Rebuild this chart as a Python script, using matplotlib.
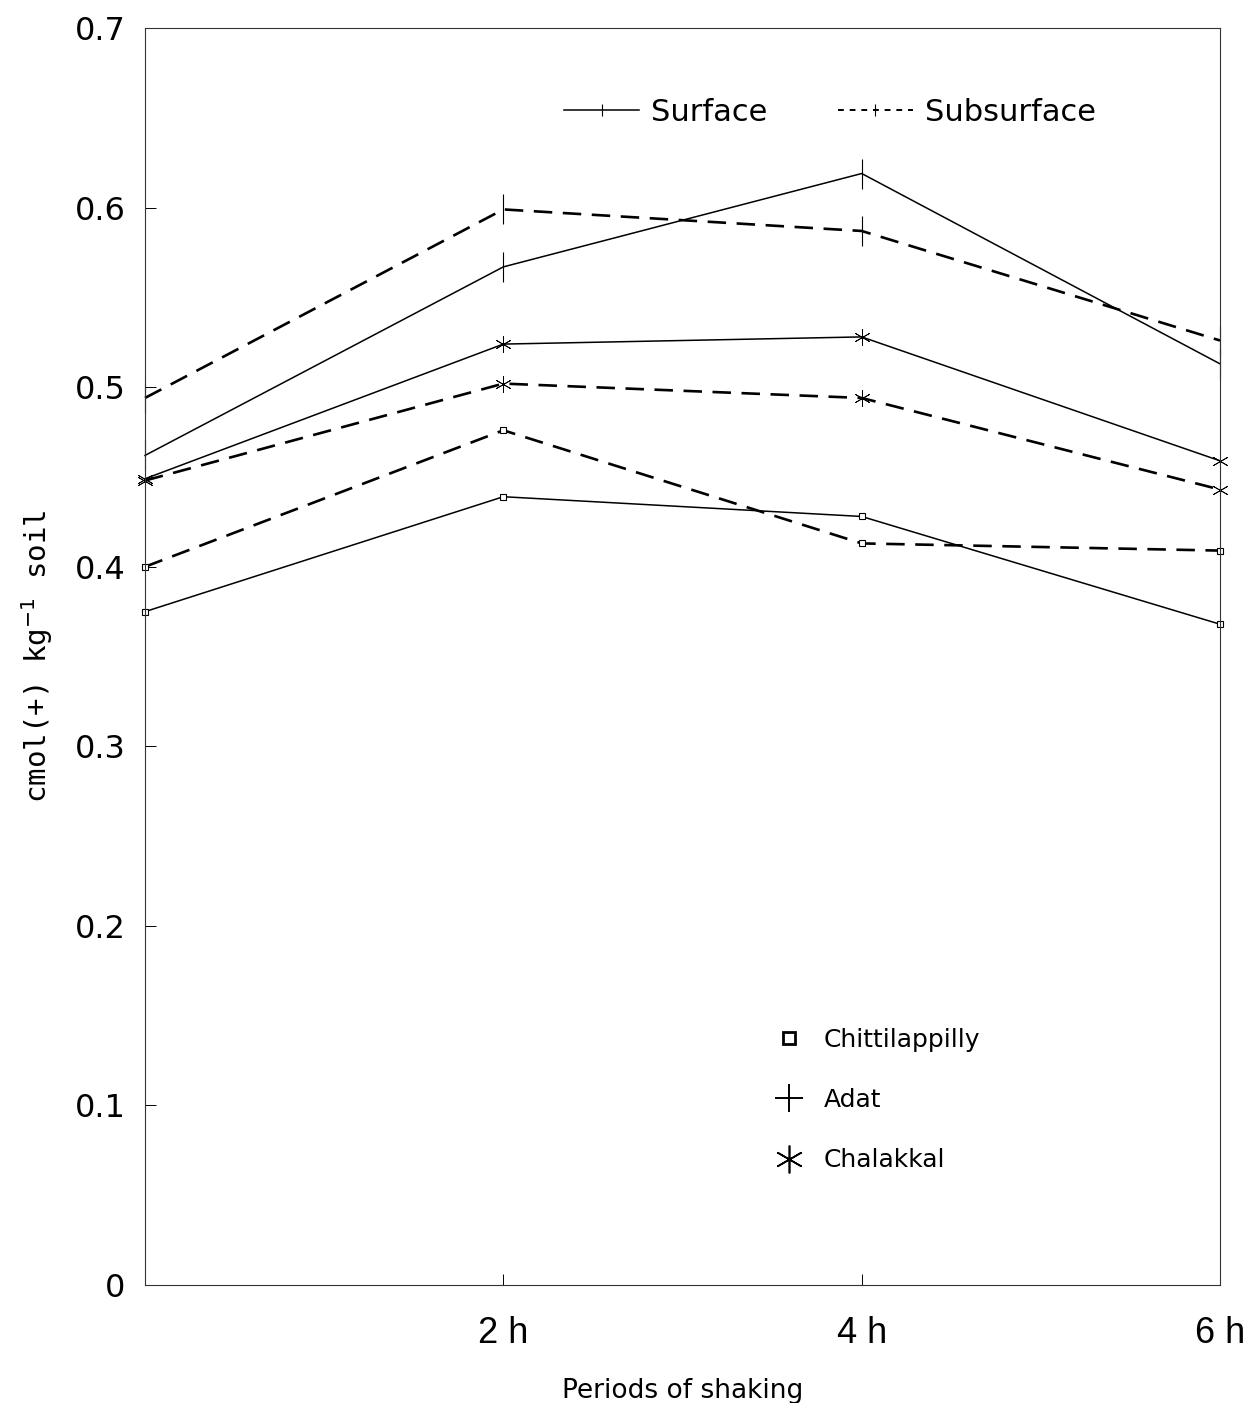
import numpy as np
import matplotlib
matplotlib.use('Agg')
import matplotlib.pyplot as plt
from matplotlib.lines import Line2D

# shaking periods (h)
periods = [0, 2, 4, 6]
x_ticks = [2, 4, 6]
x_ticklabels = ['2 h', '4 h', '6 h']
y_ticks = [0, 0.1, 0.2, 0.3, 0.4, 0.5, 0.6, 0.7]
y_ticklabels = ['0', '0.1', '0.2', '0.3', '0.4', '0.5', '0.6', '0.7']

# cmol(+) kg-1 soil
adat_surface = [0.462, 0.567, 0.619, 0.513]
adat_subsurface = [0.494, 0.599, 0.587, 0.526]
chalakkal_surface = [0.449, 0.524, 0.528, 0.459]
chalakkal_subsurface = [0.448, 0.502, 0.494, 0.443]
chitti_surface = [0.375, 0.439, 0.428, 0.368]
chitti_subsurface = [0.400, 0.476, 0.413, 0.409]

fig = plt.figure(figsize=(12.49, 14.03), dpi=100)
ax = fig.add_axes([0.1161, 0.0841, 0.8607, 0.8959])

solid = dict(color='black', lw=1.1, linestyle='-', clip_on=False)
dashed = dict(color='black', lw=1.9, linestyle=(0, (7, 4)), clip_on=False)

# Adat (plus marks with long vertical arms)
ax.plot(periods, adat_surface, marker='|', ms=22, mew=0.8, **solid)
ax.plot(periods, adat_subsurface, marker='|', ms=22, mew=0.8, **dashed)
# Chalakkal (asterisk)
ax.plot(periods, chalakkal_surface, marker=(6, 2, 0), ms=12, mew=0.6, **solid)
ax.plot(periods, chalakkal_subsurface, marker=(6, 2, 0), ms=12, mew=0.6, **dashed)
# Chittilappilly (small squares)
ax.plot(periods, chitti_surface, marker='s', ms=5, mfc='white', mew=0.8, **solid)
ax.plot(periods, chitti_subsurface, marker='s', ms=5, mfc='white', mew=0.8, **dashed)

ax.set_xlim(0, 6)
ax.set_ylim(0, 0.7)
ax.set_xticks(x_ticks)
ax.set_xticklabels(x_ticklabels, fontsize=26, family='Liberation Sans')
ax.set_yticks(y_ticks)
ax.set_yticklabels(y_ticklabels, fontsize=23, family='DejaVu Sans')
ax.tick_params(axis='both', direction='in', length=8, width=0.7)
ax.tick_params(axis='y', pad=14)
ax.tick_params(axis='x', pad=22)
for s in ax.spines.values():
    s.set_linewidth(0.8)
    s.set_color('#333333')

ax.set_ylabel('cmol(+) kg$^{-1}$ soil', fontsize=21, family='DejaVu Sans Mono', labelpad=14)
ax.set_xlabel('Periods of shaking', fontsize=19, family='DejaVu Sans', labelpad=20)

# legend: soil layer
layer_handles = [
    Line2D([], [], color='black', lw=1.1, marker='|', ms=8, mew=0.8),
    Line2D([], [], color='black', lw=1.4, linestyle=(0, (3, 3)), marker='|', ms=8, mew=0.8),
]
leg1 = ax.legend(layer_handles, ['Surface', 'Subsurface'], loc='center left',
                 bbox_to_anchor=(0.39, 0.933), ncol=2, frameon=False,
                 fontsize=22, handlelength=2.45, handletextpad=0.4,
                 columnspacing=2.3, borderpad=0, borderaxespad=0)
ax.add_artist(leg1)

# legend: location
site_handles = [
    Line2D([], [], color='black', lw=0, marker='s', ms=8, mfc='white', mew=2),
    Line2D([], [], color='black', lw=0, marker='+', ms=20, mew=1.4),
    Line2D([], [], color='black', lw=0, marker=(6, 2, 0), ms=20, mew=1.2),
]
ax.legend(site_handles, ['Chittilappilly', 'Adat', 'Chalakkal'], loc='center left',
          bbox_to_anchor=(0.585, 0.147), frameon=False, fontsize=18,
          handlelength=1.2, handletextpad=0.8, labelspacing=1.45,
          borderpad=0, borderaxespad=0)

fig.savefig('out.png', dpi=100)
